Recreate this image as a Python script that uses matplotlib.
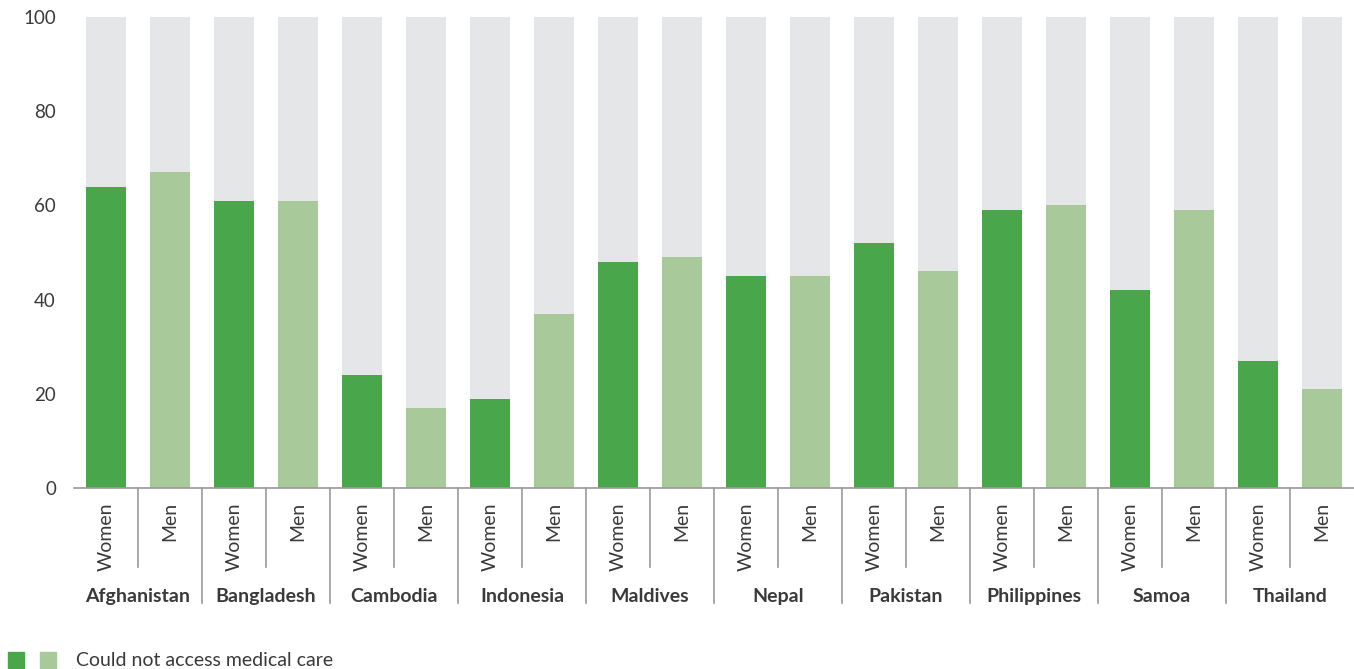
import numpy as np
import matplotlib.pyplot as plt
import matplotlib.transforms as mtransforms

countries = ["Afghanistan", "Bangladesh", "Cambodia", "Indonesia", "Maldives",
             "Nepal", "Pakistan", "Philippines", "Samoa", "Thailand"]
women = [64, 61, 24, 19, 48, 45, 52, 59, 42, 27]
men = [67, 61, 17, 37, 49, 45, 46, 60, 59, 21]
sexes = ["Women", "Men"]

dark = "#4aa64a"
light = "#a8ca9a"
grey = "#e5e6e8"
text_col = "#3a3a3a"
line_col = "#9a9a9a"

plt.rcParams['font.family'] = ['Lato', 'DejaVu Sans']

fig = plt.figure(figsize=(13.54, 6.69), dpi=100)
ax = fig.add_axes([74 / 1354, 181 / 669, 1280 / 1354, 471 / 669])

values = []
colors = []
for w, m in zip(women, men):
    values += [w, m]
    colors += [dark, light]
x = np.arange(len(values))
width = 0.625

ax.bar(x, [100] * len(x), width=width, color=grey, zorder=1)
ax.bar(x, values, width=width, color=colors, zorder=2)

ax.set_xlim(-0.5, len(x) - 0.5)
ax.set_ylim(0, 100)
ax.set_yticks([0, 20, 40, 60, 80, 100])
ax.tick_params(axis='y', length=0, labelsize=13.5, labelcolor=text_col, pad=13)
ax.set_xticks([])
for s in ["top", "right", "left"]:
    ax.spines[s].set_visible(False)
ax.spines["bottom"].set_color(line_col)
ax.spines["bottom"].set_linewidth(1.2)

trans = mtransforms.blended_transform_factory(ax.transData, ax.transAxes)
for i in range(len(x)):
    ax.text(x[i], -0.03, sexes[i % 2], rotation=90, ha='center', va='top',
            fontsize=14, color=text_col, transform=trans)
for i in range(1, len(x)):
    depth = -0.244 if i % 2 == 0 else -0.168
    ax.plot([i - 0.5, i - 0.5], [0, depth], color=line_col, lw=1.2,
            transform=trans, clip_on=False)
for k, c in enumerate(countries):
    ax.text(2 * k + 0.5, -0.23, c, ha='center', va='center', fontsize=14,
            fontweight='bold', color=text_col, transform=trans)

# legend
fig.patches.append(plt.Rectangle((8 / 1354, 1 / 669), 16 / 1354, 16 / 669,
                                 color=dark, transform=fig.transFigure))
fig.patches.append(plt.Rectangle((40 / 1354, 1 / 669), 16 / 1354, 16 / 669,
                                 color=light, transform=fig.transFigure))
fig.text(76 / 1354, 9 / 669, "Could not access medical care", ha='left',
         va='center', fontsize=14, color=text_col)

fig.savefig("out.png", dpi=100)
